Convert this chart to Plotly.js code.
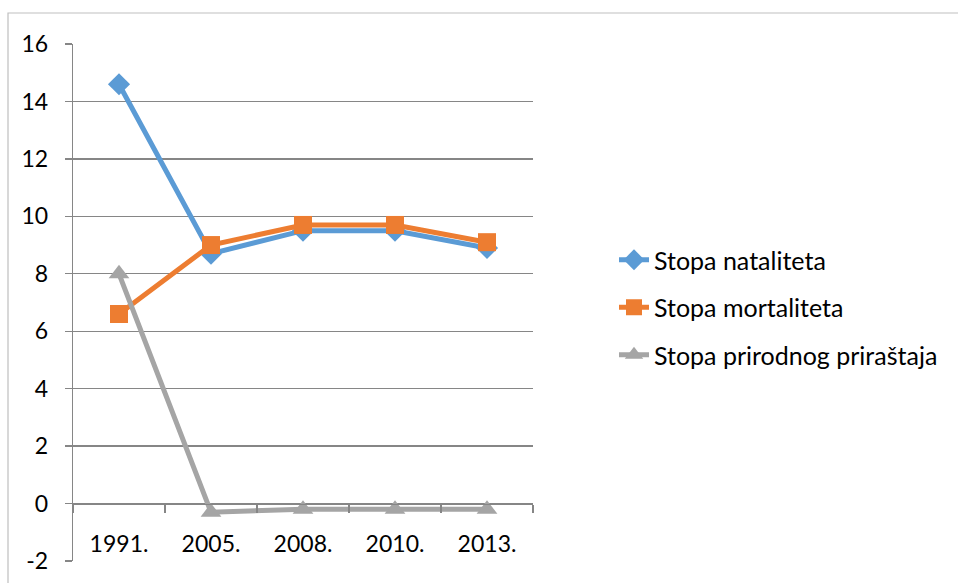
<!DOCTYPE html>
<html>
<head>
<meta charset="utf-8">
<script src="https://cdn.plot.ly/plotly-3.0.1.min.js"></script>
<style>html,body{margin:0;padding:0;background:#fff;}#chart{width:958px;height:583px;}</style>
</head>
<body>
<div id="chart"></div>
<script>
const years = ["1991.", "2005.", "2008.", "2010.", "2013."];
const natalitet = [14.6, 8.7, 9.5, 9.5, 8.9];
const mortalitet = [6.6, 9.0, 9.7, 9.7, 9.1];
const prirastaj = [8.0, -0.3, -0.2, -0.2, -0.2];
const seriesNames = ["Stopa nataliteta", "Stopa mortaliteta", "Stopa prirodnog priraštaja"];
const yTicks = [-2, 0, 2, 4, 6, 8, 10, 12, 14, 16];

const FONT = "Lato, 'Open Sans', sans-serif";
const mk = (y, name, color, symbol, size, g) => ({
  x: years, y: y, name: name, type: "scatter", mode: "lines+markers",
  legendgroup: g,
  line: {color: color, width: 5},
  marker: {color: color, symbol: symbol, size: size}
});
const data = [
  mk(natalitet, seriesNames[0], "#5B9BD5", "diamond", 17, "a"),
  mk(mortalitet, seriesNames[1], "#ED7D31", "square", 18, "b"),
  mk(prirastaj, seriesNames[2], "#A5A5A5", "triangle-up", 18, "c")
];

const L = 73, R = 425, T = 44, B = 22;
const W = 958 - L - R, H = 583 - T - B;
const layout = {
  width: 958, height: 583,
  margin: {l: L, r: R, t: T, b: B, pad: 0},
  paper_bgcolor: "#fff", plot_bgcolor: "#fff",
  font: {family: FONT, size: 23, color: "#000"},
  showlegend: true,
  legend: {x: (614 - L) / W, y: 1 - (237 - T) / H, xanchor: "left", yanchor: "top",
           font: {family: FONT, size: 25, color: "#000"},
           traceorder: "grouped", tracegroupgap: 12, bgcolor: "rgba(0,0,0,0)"},
  xaxis: {
    type: "category", range: [-0.5, 4.5],
    anchor: "free", position: 2 / 18,
    showline: true, linecolor: "#868686", linewidth: 1.3,
    showgrid: false, zeroline: false,
    ticks: "outside", tickson: "boundaries", ticklen: 8, tickcolor: "#868686", tickwidth: 1.3,
    ticklabelstandoff: 20,
    tickfont: {family: FONT, size: 23, color: "#000"}
  },
  yaxis: {
    range: [-2, 16], tickvals: yTicks, ticktext: yTicks.map(String),
    showline: true, linecolor: "#868686", linewidth: 1.3,
    showgrid: true, gridcolor: "#868686", gridwidth: 1.3,
    zeroline: false,
    ticks: "outside", ticklen: 7, tickcolor: "#868686", tickwidth: 1.3,
    ticklabelstandoff: 12,
    tickfont: {family: FONT, size: 23, color: "#000"}
  },
  shapes: [{
    type: "rect", xref: "paper", yref: "paper", layer: "below",
    x0: (8 - L) / W, x1: (990 - L) / W,
    y0: -(40) / H, y1: 1 + (T - 13) / H,
    line: {color: "#BFBFBF", width: 1.2}, fillcolor: "rgba(0,0,0,0)"
  }]
};
Plotly.newPlot("chart", data, layout, {staticPlot: true, displayModeBar: false});
</script>
</body>
</html>
